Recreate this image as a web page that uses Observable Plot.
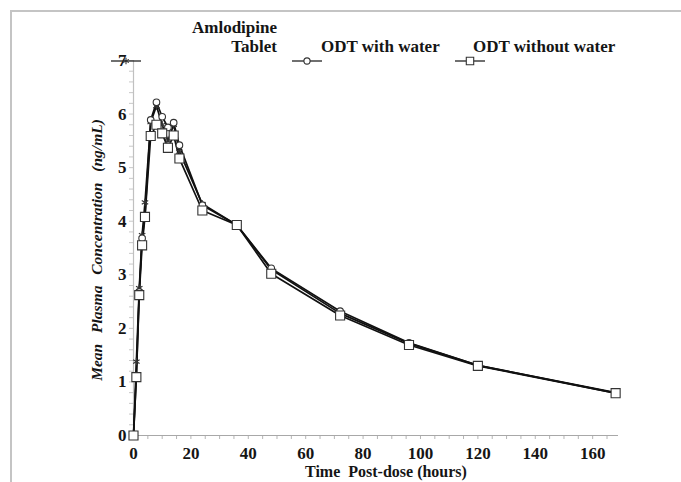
<!DOCTYPE html>
<html><head><meta charset="utf-8">
<script src="https://cdn.jsdelivr.net/npm/d3@7"></script>
<script src="https://cdn.jsdelivr.net/npm/@observablehq/plot@0.6"></script>
<style>
body{margin:0;background:#fff;}
#wrap{position:relative;width:681px;height:482px;overflow:hidden;font-family:"Times New Roman","Liberation Serif","LiberationSerif","Tinos","DejaVu Serif",Times,serif;}
#frame{position:absolute;left:10px;top:10px;width:700px;height:500px;border-top:2px solid #c4c4c4;border-left:2px solid #c4c4c4;}
#chart{position:absolute;left:0;top:0;}
.lg{position:absolute;font-weight:bold;font-size:17px;line-height:17px;white-space:nowrap;color:#151515;}
.sym{position:absolute;}
#xl{position:absolute;left:305px;top:463px;font-weight:bold;font-size:16px;line-height:17px;white-space:pre;color:#151515;}
#yl{position:absolute;left:97px;top:250px;transform:translate(-50%,-50%) rotate(-90deg);font-weight:bold;font-style:italic;font-size:15.5px;white-space:pre;word-spacing:7px;color:#151515;}
</style></head>
<body>
<div id="wrap">
  <div id="frame"></div>
  <div id="chart"></div>
  <div class="lg" style="right:404px;top:19px;">Amlodipine</div>
  <div class="lg" style="right:404px;top:38px;">Tablet</div>
  <div class="lg" style="left:321px;top:38px;">ODT with water</div>
  <div class="lg" style="left:473px;top:38px;">ODT without water</div>
  <div id="xl">Time  Post-dose (hours)</div>
  <div id="yl">Mean Plasma Concentration (ng/mL)</div>
</div>
<script>
const times = [0,1,2,3,4,6,8,10,12,14,16,24,36,48,72,96,120,168];
const tablet =       [0,1.38,2.75,3.74,4.35,5.85,6.15,5.80,5.50,5.80,5.30,4.32,3.93,3.10,2.28,1.72,1.31,0.80];
const withWater =    [0,1.12,2.68,3.68,4.10,5.89,6.22,5.95,5.75,5.84,5.42,4.30,3.93,3.12,2.32,1.73,1.31,0.79];
const withoutWater = [0,1.09,2.62,3.55,4.08,5.59,5.80,5.64,5.37,5.60,5.17,4.20,3.93,3.02,2.24,1.69,1.30,0.79];
const seriesNames = ["Amlodipine Tablet","ODT with water","ODT without water"];
const seriesSymbols = ["asterisk","circle","square"];
const xTickLabels = [0,20,40,60,80,100,120,140,160];
const yTickLabels = [0,1,2,3,4,5,6,7];

const allSeries = [tablet, withWater, withoutWater];
const data = [];
allSeries.forEach((vals, si) => {
  times.forEach((t, i) => data.push({t, c: vals[i], s: seriesNames[si]}));
});
const bySeries = name => data.filter(d => d.s === name);

const xMinor = d3.range(0, 170, 5);
const yMinor = d3.range(0, 36).map(i => i / 5);
const serif = '"Times New Roman","Liberation Serif","Tinos","DejaVu Serif",serif';

const chart = Plot.plot({
  width: 681, height: 482,
  marginLeft: 133, marginRight: 63, marginTop: 60, marginBottom: 47,
  x: {domain: [0, 169]},
  y: {domain: [0, 7]},
  style: {fontFamily: serif, fontWeight: "bold", fontSize: "17px", color: "#151515", background: "transparent", overflow: "visible"},
  marks: [
    Plot.axisX({ticks: xMinor, tickSize: 4, tickFormat: () => "", stroke: "#b5b5b5", label: null}),
    Plot.axisY({ticks: yMinor, tickSize: 4, tickFormat: () => "", stroke: "#c8c8c8", label: null}),
    Plot.axisX({ticks: xTickLabels, tickSize: 0, tickPadding: 11, label: null, fontSize: 17, tickFormat: d3.format("d")}),
    Plot.axisY({ticks: yTickLabels, tickSize: 0, tickPadding: 7, label: null, fontSize: 17, tickFormat: d3.format("d")}),
    Plot.ruleY([0], {stroke: "#a8a8a8", strokeWidth: 1.2}),
    Plot.ruleX([0], {stroke: "#c0c0c0", strokeWidth: 1.2}),
    Plot.line(data, {x: "t", y: "c", z: "s", stroke: "#111", strokeWidth: 1.7}),
    Plot.dot(bySeries(seriesNames[0]), {x: "t", y: "c", symbol: "asterisk", r: 3.5, stroke: "#333", strokeWidth: 1.2}),
    Plot.dot(bySeries(seriesNames[1]), {x: "t", y: "c", symbol: "circle", r: 3.3, fill: "white", stroke: "#333", strokeWidth: 1.1}),
    Plot.dot(bySeries(seriesNames[2]), {x: "t", y: "c", symbol: "square", r: 5.1, fill: "white", stroke: "#333", strokeWidth: 1.1})
  ]
});
document.getElementById("chart").appendChild(chart);

// legend samples
const legendPos = [[111, 55], [292, 55], [455, 55]];
seriesNames.forEach((name, i) => {
  const s = d3.select("#wrap").append("svg").attr("class", "sym")
    .attr("width", 30).attr("height", 12)
    .style("left", legendPos[i][0] + "px").style("top", legendPos[i][1] + "px");
  s.append("line").attr("x1", 0).attr("x2", 30).attr("y1", 6).attr("y2", 6).attr("stroke", "#222").attr("stroke-width", 1.3);
  const type = seriesSymbols[i] === "circle" ? d3.symbolCircle : seriesSymbols[i] === "square" ? d3.symbolSquare : d3.symbolAsterisk;
  const size = seriesSymbols[i] === "square" ? 55 : 30;
  s.append("path").attr("d", d3.symbol(type, size)()).attr("transform", "translate(15,6)")
    .attr("fill", seriesSymbols[i] === "asterisk" ? "none" : "white").attr("stroke", "#333").attr("stroke-width", 1.1);
});
</script>
</body></html>
